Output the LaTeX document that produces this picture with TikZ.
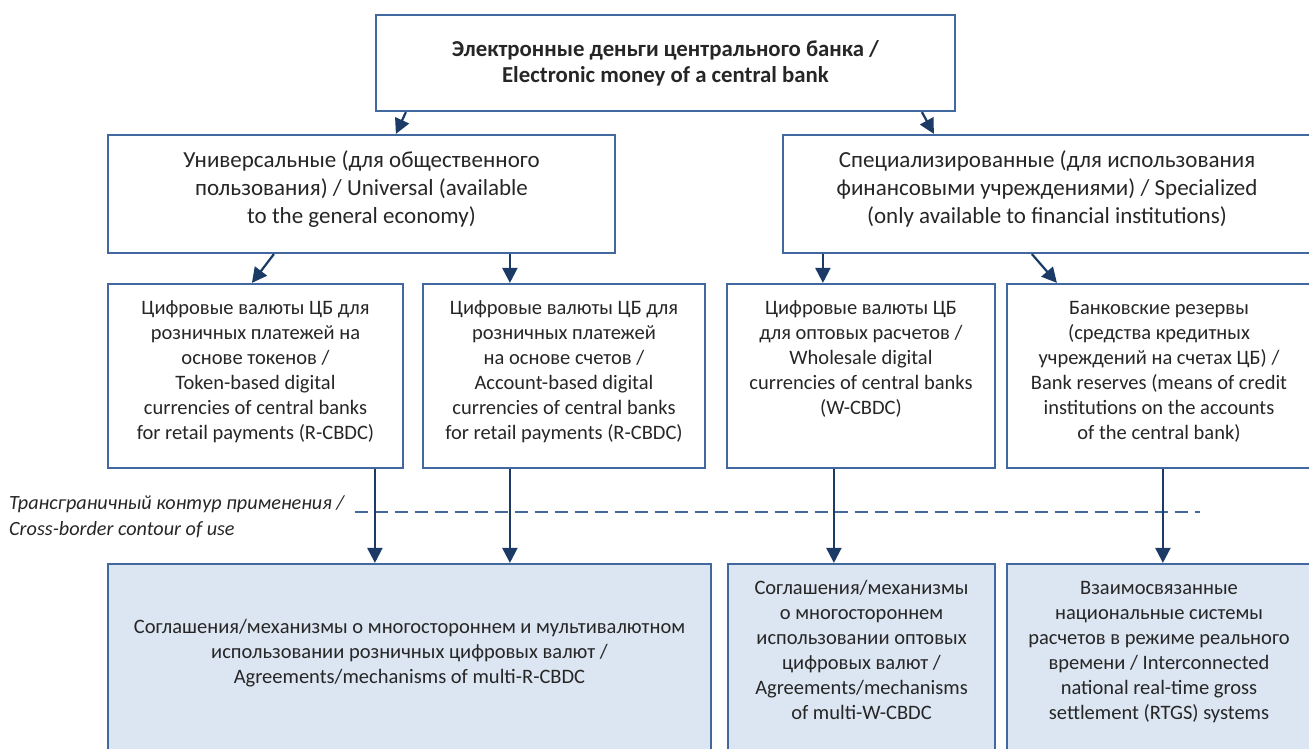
\documentclass[tikz,border=0pt]{standalone}
\usepackage{fontspec}
\setmainfont{Carlito}
\usetikzlibrary{arrows.meta}
\definecolor{boxc}{HTML}{4169A0}
\definecolor{arrc}{HTML}{1B3A66}
\definecolor{fillc}{HTML}{DCE6F2}
\definecolor{txtc}{HTML}{262626}
\newcommand{\tb}[4]{\parbox[c][#1][t]{#2}{\centering\vspace*{#3}\strut#4\par}}
\tikzset{
  box/.style={draw=boxc, line width=2.2pt, inner sep=0pt, text=txtc, align=center},
  fbox/.style={box, fill=fillc},
  small/.style={font=\fontsize{20.5}{25}\selectfont},
  big/.style={font=\fontsize{23}{28}\selectfont},
  arr/.style={draw=arrc, line width=2.2pt, -{Triangle[length=15pt,width=15pt]}},
  cross/.style={draw=boxc, line width=2pt, dash pattern=on 13pt off 7pt},
}
\begin{document}
\begin{tikzpicture}[x=1pt,y=-1pt]
\useasboundingbox (0,0) rectangle (1309,749);
% top
\node[box, font=\bfseries\fontsize{22.8}{26}\selectfont] (top) at (665.5,63)
  {\tb{96pt}{579pt}{23pt}{Электронные деньги центрального банка /\\Electronic money of a central bank}};
% level 2
\node[box, big] (uni) at (361.5,194)
  {\tb{118pt}{507pt}{12.8pt}{Универсальные (для общественного\\пользования) / Universal (available\\to the general economy)}};
\node[box, big] (spec) at (1047,194)
  {\tb{118pt}{528pt}{12.8pt}{Специализированные (для использования\\финансовыми учреждениями) / Specialized\\(only available to financial institutions)}};
% level 3
\node[box, small] (tok) at (255.5,376)
  {\tb{184pt}{295pt}{13.3pt}{Цифровые валюты ЦБ для\\розничных платежей на\\основе токенов /\\Token-based digital\\currencies of central banks\\for retail payments (R-CBDC)}};
\node[box, small] (acc) at (564,376)
  {\tb{184pt}{282pt}{13.3pt}{Цифровые валюты ЦБ для\\розничных платежей\\на основе счетов /\\Account-based digital\\currencies of central banks\\for retail payments (R-CBDC)}};
\node[box, small] (whs) at (861,376)
  {\tb{184pt}{268pt}{13.3pt}{Цифровые валюты ЦБ\\для оптовых расчетов /\\Wholesale digital\\currencies of central banks\\(W-CBDC)}};
\node[box, small] (res) at (1159,376)
  {\tb{184pt}{304pt}{13.3pt}{Банковские резервы\\(средства кредитных\\учреждений на счетах ЦБ) /\\Bank reserves (means of credit\\institutions on the accounts\\of the central bank)}};
% bottom
\node[fbox, small] (mr) at (409.5,664)
  {\tb{200pt}{603pt}{52pt}{Соглашения/механизмы о многостороннем и мультивалютном\\использовании розничных цифровых валют /\\Agreements/mechanisms of multi-R-CBDC}};
\node[fbox, small] (mw) at (861.5,664)
  {\tb{200pt}{267pt}{13.3pt}{Соглашения/механизмы\\о многостороннем\\использовании оптовых\\цифровых валют /\\Agreements/mechanisms\\of multi-W-CBDC}};
\node[fbox, small] (rtgs) at (1159,664)
  {\tb{200pt}{304pt}{13.3pt}{Взаимосвязанные\\национальные системы\\расчетов в режиме реального\\времени / Interconnected\\national real-time gross\\settlement (RTGS) systems}};
% cross-border contour
\coordinate (dl) at (355,512);
\coordinate (dr) at (1200,512);
\draw[cross] (dl) -- (dr);
\node[anchor=west, align=left, text=txtc, inner sep=0pt, font=\itshape\fontsize{20.2}{26}\selectfont] (lbl) at (9,517)
  {Трансграничный контур применения /\\Cross-border contour of use};
% arrows
\draw[arr] ([xshift=31pt]top.south west) -- ([xshift=289pt]uni.north west);
\draw[arr] ([xshift=547pt]top.south west) -- ([xshift=152pt]spec.north west);
\draw[arr] ([xshift=167pt]uni.south west) -- ([xshift=145pt]tok.north west);
\draw[arr] ([xshift=403pt]uni.south west) -- ([xshift=88pt]acc.north west);
\draw[arr] ([xshift=41pt]spec.south west) -- ([xshift=97pt]whs.north west);
\draw[arr] ([xshift=250pt]spec.south west) -- ([xshift=51pt]res.north west);
\draw[arr] ([xshift=268pt]tok.south west) -- ([xshift=268pt]mr.north west);
\draw[arr] ([xshift=88pt]acc.south west) -- ([xshift=403pt]mr.north west);
\draw[arr] ([xshift=108pt]whs.south west) -- ([xshift=107pt]mw.north west);
\draw[arr] ([xshift=157pt]res.south west) -- ([xshift=157pt]rtgs.north west);
\end{tikzpicture}
\end{document}
